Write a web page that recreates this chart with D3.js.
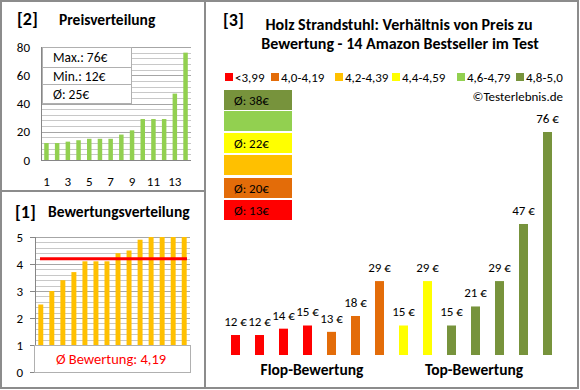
<!DOCTYPE html>
<html>
<head>
<meta charset="utf-8">
<script src="https://cdn.jsdelivr.net/npm/d3@7"></script>
<style>
  body { margin: 0; background: #fff; }
  svg text { font-family: Carlito, Calibri, "Liberation Sans", Arial, sans-serif; fill: #000; }
</style>
</head>
<body>
<div id="chart"></div>
<script>
// ---- data ----
const productNo = d3.range(1, 15);
const pricesSorted = [12, 12, 13, 14, 15, 15, 15, 18, 21, 29, 29, 29, 47, 76];
const ratingsSorted = [2.5, 3.0, 3.4, 3.7, 4.1, 4.1, 4.1, 4.4, 4.5, 4.9, 5.0, 5.0, 5.0, 5.0];
const pricesByRating = [12, 12, 14, 15, 13, 18, 29, 15, 29, 15, 21, 29, 47, 76];
const ratingClasses = ["<3,99", "4,0-4,19", "4,2-4,39", "4,4-4,59", "4,6-4,79", "4,8-5,0"];
const classColors = ["#FF0000", "#E36C09", "#FFC000", "#FFFF00", "#92D050", "#77933C"];
const classAvg = [13, 20, null, 22, null, 38];
const priceStats = ["Max.: 76€", "Min.: 12€", "Ø: 25€"];
const avgRating = 4.19;

const W = 580, H = 390;
const svg = d3.select("#chart").append("svg").attr("width", W).attr("height", H);

const frame = "#8c8c8c";
// panel frames
svg.append("rect").attr("x", 1).attr("y", 1).attr("width", 577).attr("height", 387)
  .attr("fill", "none").attr("stroke", frame).attr("stroke-width", 2);
svg.append("line").attr("x1", 205).attr("x2", 205).attr("y1", 1).attr("y2", 388)
  .attr("stroke", frame).attr("stroke-width", 2);
svg.append("line").attr("x1", 1).attr("x2", 205).attr("y1", 191).attr("y2", 191)
  .attr("stroke", frame).attr("stroke-width", 2);

function gridLines(g, y, x0, x1, ticks, color) {
  g.selectAll(null).data(ticks).join("line")
    .attr("x1", x0).attr("x2", x1)
    .attr("y1", d => Math.round(y(d)) + 0.5).attr("y2", d => Math.round(y(d)) + 0.5)
    .attr("stroke", color).attr("stroke-width", 1);
}

// ================= Panel [2] Preisverteilung =================
{
  const g = svg.append("g");
  g.append("text").attr("x", 17).attr("y", 25).attr("font-size", 18).attr("font-weight", "bold").text("[2]");
  g.append("text").attr("x", 59).attr("y", 25).attr("font-size", 15.5).attr("font-weight", "bold").text("Preisverteilung");

  const x = d3.scaleBand().domain(productNo).range([41, 191]).paddingInner(0.58).paddingOuter(0.3);
  const y = d3.scaleLinear().domain([0, 80]).range([160, 47]);

  gridLines(g, y, 41, 191, d3.range(4, 80, 4).filter(d => d % 20 !== 0), "#c8c8c8");
  gridLines(g, y, 41, 191, [20, 40, 60, 80], "#a6a6a6");

  g.selectAll(".pbar").data(pricesSorted).join("rect")
    .attr("x", (d, i) => x(productNo[i]))
    .attr("width", x.bandwidth())
    .attr("y", d => y(d))
    .attr("height", d => y(0) - y(d))
    .attr("fill", "#92D050");

  g.append("line").attr("x1", 41.5).attr("x2", 41.5).attr("y1", y(80)).attr("y2", y(0)).attr("stroke", "#868686");
  g.append("line").attr("x1", 41).attr("x2", 191).attr("y1", y(0) + 0.5).attr("y2", y(0) + 0.5).attr("stroke", "#868686");

  g.selectAll(".ylab").data([0, 20, 40, 60, 80]).join("text")
    .attr("x", 30).attr("y", d => y(d) + 4.5).attr("text-anchor", "end").attr("font-size", 13).text(d => d);
  g.selectAll(".xlab").data(productNo.filter(d => d % 2 === 1)).join("text")
    .attr("x", d => x(d) + x.bandwidth() / 2).attr("y", 186).attr("text-anchor", "middle").attr("font-size", 13).text(d => d);

  // stats box
  const bx = 42, by = 47, bw = 89, rows = [0, 20, 37, 56];
  g.append("rect").attr("x", bx + 0.5).attr("y", by + 0.5).attr("width", bw).attr("height", rows[3])
    .attr("fill", "#fff").attr("stroke", "#b0b0b0");
  [rows[1], rows[2]].forEach(r => g.append("line").attr("x1", bx).attr("x2", bx + bw)
    .attr("y1", by + r + 0.5).attr("y2", by + r + 0.5).attr("stroke", "#b0b0b0"));
  g.selectAll(".stat").data(priceStats).join("text")
    .attr("x", 53).attr("y", (d, i) => by + (rows[i] + rows[i + 1]) / 2 + 5)
    .attr("font-size", 13.5).text(d => d);
}

// ================= Panel [1] Bewertungsverteilung =================
{
  const g = svg.append("g");
  g.append("text").attr("x", 15).attr("y", 218).attr("font-size", 18).attr("font-weight", "bold").text("[1]");
  g.append("text").attr("x", 48).attr("y", 217).attr("font-size", 15.5).attr("font-weight", "bold").text("Bewertungsverteilung");

  const x = d3.scaleBand().domain(productNo).range([35, 190]).paddingInner(0.55).paddingOuter(0.3);
  const y = d3.scaleLinear().domain([0, 5]).range([372, 237]);

  gridLines(g, y, 35, 190, d3.range(1, 25).map(d => d / 5).filter(d => d % 1 !== 0), "#c8c8c8");
  gridLines(g, y, 35, 190, [1, 2, 3, 4, 5], "#a6a6a6");

  g.selectAll(".rbar").data(ratingsSorted).join("rect")
    .attr("x", (d, i) => x(productNo[i]))
    .attr("width", x.bandwidth())
    .attr("y", d => y(d))
    .attr("height", d => y(0) - y(d))
    .attr("fill", "#FFC000");

  g.append("line").attr("x1", 40).attr("x2", 187).attr("y1", y(avgRating)).attr("y2", y(avgRating))
    .attr("stroke", "#FF0000").attr("stroke-width", 3);

  g.append("line").attr("x1", 35.5).attr("x2", 35.5).attr("y1", y(5)).attr("y2", y(0)).attr("stroke", "#868686");
  g.selectAll(".tick").data(d3.range(0, 6)).join("line")
    .attr("x1", 30).attr("x2", 35).attr("y1", d => Math.round(y(d)) + 0.5).attr("y2", d => Math.round(y(d)) + 0.5)
    .attr("stroke", "#868686");

  g.append("rect").attr("x", 34.5).attr("y", 345.5).attr("width", 156).attr("height", 27)
    .attr("fill", "#fff").attr("stroke", "#b0b0b0");
  g.append("text").attr("x", 111).attr("y", 364).attr("text-anchor", "middle").attr("font-size", 14.5)
    .style("fill", "#FF0000").text("Ø Bewertung: " + String(avgRating).replace(".", ","));

  g.selectAll(".ylab").data(d3.range(0, 6)).join("text")
    .attr("x", 23).attr("y", d => y(d) + 4.5).attr("text-anchor", "end").attr("font-size", 13).text(d => d);
}

// ================= Panel [3] Preis vs Bewertung =================
{
  const g = svg.append("g");
  g.append("text").attr("x", 223).attr("y", 26).attr("font-size", 18).attr("font-weight", "bold").text("[3]");
  g.append("text").attr("x", 399).attr("y", 30).attr("text-anchor", "middle").attr("font-size", 16).attr("font-weight", "bold")
    .text("Holz Strandstuhl: Verhältnis von Preis zu");
  g.append("text").attr("x", 400).attr("y", 49).attr("text-anchor", "middle").attr("font-size", 16).attr("font-weight", "bold")
    .text("Bewertung - 14 Amazon Bestseller im Test");

  // legend
  const legX = [225, 271, 335, 392, 457, 516];
  const leg = g.selectAll(".leg").data(ratingClasses).join("g")
    .attr("transform", (d, i) => `translate(${legX[i]},73)`);
  leg.append("rect").attr("width", 8).attr("height", 8).attr("fill", (d, i) => classColors[i]);
  leg.append("text").attr("x", 10).attr("y", 9).attr("font-size", 13).text(d => d);

  g.append("text").attr("x", 563).attr("y", 101).attr("text-anchor", "end").attr("font-size", 13).text("©Testerlebnis.de");

  // average boxes (top = best class)
  const boxY = [200, 178, 155, 133, 111, 90];
  ratingClasses.forEach((c, i) => {
    g.append("rect").attr("x", 224).attr("y", boxY[i]).attr("width", 68).attr("height", 20).attr("fill", classColors[i]);
    if (classAvg[i] != null) {
      g.append("text").attr("x", 234).attr("y", boxY[i] + 14.5).attr("font-size", 13).text(`Ø: ${classAvg[i]}€`);
    }
  });

  const cls = r => r < 4 ? 0 : r < 4.2 ? 1 : r < 4.4 ? 2 : r < 4.6 ? 3 : r < 4.8 ? 4 : 5;
  const x = d3.scaleBand().domain(productNo).range([223.5, 559.5]).paddingInner(0.625).paddingOuter(0.3125);
  const y = d3.scaleLinear().domain([5.7, 76]).range([355, 132]);

  g.selectAll(".mbar").data(pricesByRating).join("rect")
    .attr("x", (d, i) => x(productNo[i]))
    .attr("width", x.bandwidth())
    .attr("y", d => y(d))
    .attr("height", d => y(5.7) - y(d))
    .attr("fill", (d, i) => classColors[cls(ratingsSorted[i])]);

  g.selectAll(".mlab").data(pricesByRating).join("text")
    .attr("x", (d, i) => x(productNo[i]) + x.bandwidth() / 2)
    .attr("y", d => y(d) - 9)
    .attr("text-anchor", "middle").attr("font-size", 13).text(d => d + " €");

  g.append("text").attr("x", 312).attr("y", 375).attr("text-anchor", "middle").attr("font-size", 15.5).attr("font-weight", "bold").text("Flop-Bewertung");
  g.append("text").attr("x", 474).attr("y", 375).attr("text-anchor", "middle").attr("font-size", 15.5).attr("font-weight", "bold").text("Top-Bewertung");
}
</script>
</body>
</html>
